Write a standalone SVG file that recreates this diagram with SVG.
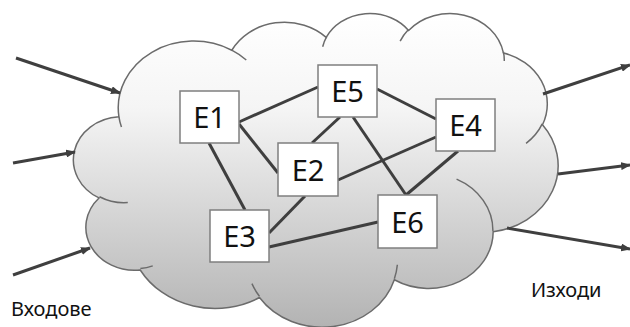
<svg xmlns="http://www.w3.org/2000/svg" width="630" height="327" viewBox="0 0 630 327">
  <defs>
    <linearGradient id="cloudFill" x1="0" y1="0" x2="0" y2="1">
      <stop offset="0" stop-color="#ffffff"/>
      <stop offset="0.3" stop-color="#f5f5f5"/>
      <stop offset="0.65" stop-color="#d4d4d4"/>
      <stop offset="1" stop-color="#b3b3b3"/>
    </linearGradient>
    <marker id="head" viewBox="0 0 10 8" refX="9" refY="4" markerWidth="10" markerHeight="8" markerUnits="userSpaceOnUse" orient="auto">
      <path d="M0,0 L10,4 L0,8 z" fill="#3f3f3f"/>
    </marker>
  </defs>
  <style>
    .cloud { fill: url(#cloudFill); stroke: #6b6b6b; stroke-width: 1.5; }
    .seam { fill: none; stroke: #6b6b6b; stroke-width: 1.5; }
    .box { fill: #ffffff; stroke: #7f7f7f; stroke-width: 1.5; }
    .lbl { font-family: "Noto Sans", "Open Sans", sans-serif; font-size: 29px; fill: #111111; text-anchor: middle; }
    .cap { font-family: "Noto Sans", "Open Sans", sans-serif; font-size: 20px; fill: #111111; }
    .link { stroke: #3f3f3f; stroke-width: 3; fill: none; }
    .io { stroke: #3f3f3f; stroke-width: 3; fill: none; marker-end: url(#head); }
  </style>

  <!-- cloud body, drawn in a 43200 x 43200 unit box -->
  <g id="cloud" transform="matrix(0.01117 0 0 0.00726 75.36 12.48)">
    <path class="cloud" vector-effect="non-scaling-stroke" d="M3900 14370 A6753 9190 0 0 1 14006 5203 A5333 7267 0 0 1 22456 3432 A4365 5945 0 0 1 29834 2482 A4857 6595 0 0 1 38320 5576 A5333 7273 0 0 1 41820 15460 A6775 9220 0 0 1 37406 30202 A5785 7867 0 0 1 28558 36813 A6752 9215 0 0 1 16483 39264 A7720 10543 0 0 1 5807 35468 A4360 5918 0 0 1 2117 25546 A4345 5945 0 0 1 3900 14370 Z"/>
    <path class="seam" vector-effect="non-scaling-stroke" d="M4693 26177 A4345 5945 0 0 1 2160 25380 M6928 34899 A4360 5918 0 0 1 5819 35281 M16478 39090 A6752 9215 0 0 1 15809 37348 M28827 34751 A6752 9215 0 0 1 28560 36661 M34129 22954 A5785 7867 0 0 1 37381 30090 M41798 15354 A5333 7273 0 0 1 40350 18030 M38324 5426 A4857 6595 0 0 1 38400 6690 M29078 3952 A4857 6595 0 0 1 29819 2341 M22141 4720 A4365 5945 0 0 1 22500 3330 M14000 5192 A6753 9190 0 0 1 15300 6541 M4127 15789 A6753 9190 0 0 1 3900 14371"/>
  </g>

  <!-- inputs and outputs -->
  <g id="io-arrows">
    <line class="io" x1="16" y1="58" x2="120" y2="93"/>
    <line class="io" x1="13" y1="163" x2="75" y2="152"/>
    <line class="io" x1="13" y1="275" x2="90" y2="248"/>
    <line class="io" x1="543" y1="94" x2="630" y2="65"/>
    <line class="io" x1="558" y1="174" x2="630" y2="165"/>
    <line class="io" x1="507" y1="228" x2="630" y2="249"/>
  </g>

  <!-- links between elements -->
  <g id="connectors">
    <line class="link" x1="239" y1="122" x2="318" y2="87"/>
    <line class="link" x1="239" y1="124" x2="278" y2="173"/>
    <line class="link" x1="209" y1="143" x2="245" y2="210"/>
    <line class="link" x1="340" y1="117" x2="312" y2="143"/>
    <line class="link" x1="353" y1="117" x2="406" y2="195"/>
    <line class="link" x1="377" y1="89" x2="436" y2="119"/>
    <line class="link" x1="338" y1="180" x2="436" y2="137"/>
    <line class="link" x1="458" y1="151" x2="406" y2="195"/>
    <line class="link" x1="305" y1="196" x2="269" y2="233"/>
    <line class="link" x1="269" y1="247" x2="378" y2="222"/>
  </g>

  <g id="E1">
    <rect class="box" x="180" y="91" width="59" height="52"/>
    <text class="lbl" x="209.5" y="127.5">E1</text>
  </g>
  <g id="E5">
    <rect class="box" x="318" y="65" width="59" height="52"/>
    <text class="lbl" x="347.5" y="101.5">E5</text>
  </g>
  <g id="E4">
    <rect class="box" x="436" y="99" width="59" height="52"/>
    <text class="lbl" x="465.5" y="135.5">E4</text>
  </g>
  <g id="E2">
    <rect class="box" x="278" y="143" width="60" height="53"/>
    <text class="lbl" x="308" y="180.5">E2</text>
  </g>
  <g id="E3">
    <rect class="box" x="210" y="210" width="59" height="52"/>
    <text class="lbl" x="239.5" y="246.5">E3</text>
  </g>
  <g id="E6">
    <rect class="box" x="378" y="195" width="59" height="53"/>
    <text class="lbl" x="407.5" y="232.5">E6</text>
  </g>

  <text class="cap" x="11" y="316">Входове</text>
  <text class="cap" x="531" y="297">Изходи</text>
</svg>
